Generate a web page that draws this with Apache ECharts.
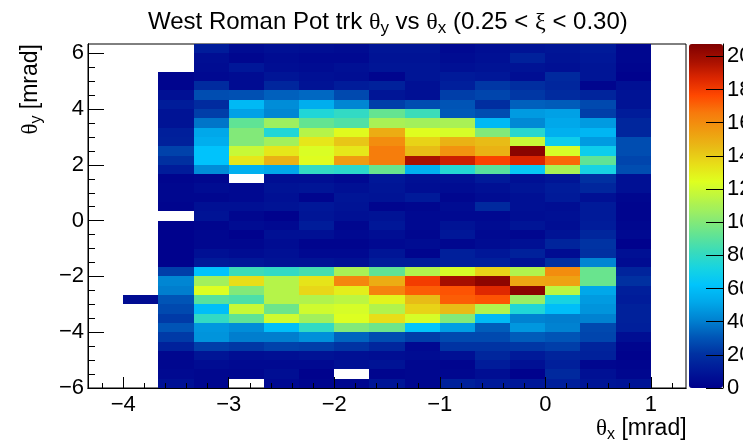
<!DOCTYPE html>
<html><head><meta charset="utf-8">
<style>html,body{margin:0;padding:0;background:#fff;overflow:hidden}#c{width:743px;height:444px}</style>
<script src="https://cdn.jsdelivr.net/npm/echarts@6/dist/echarts.min.js"></script>
</head><body><div id="c"></div>
<script>
const xEdges = [-4.3333,-4,-3.6667,-3.3333,-3,-2.6667,-2.3333,-2,-1.6667,-1.3333,-1,-0.6667,-0.3333,0,0.3333,0.6667,1,1.3333];
const yEdges = [6.3333,6,5.6667,5.3333,5,4.6667,4.3333,4,3.6667,3.3333,3,2.6667,2.3333,2,1.6667,1.3333,1,0.6667,0.3333,0,-0.3333,-0.6667,-1,-1.3333,-1.6667,-2,-2.3333,-2.6667,-3,-3.3333,-3.6667,-4,-4.3333,-4.6667,-5,-5.3333,-5.6667,-6];
const _ = null;
// one row per theta-y bin (top to bottom), one column per theta-x bin (left to right)
const counts = [
[_,_,_,12,5,7,6,5,9,9,4,6,8,9,11,3,_],
[_,_,_,6,3,5,4,4,8,8,5,7,14,8,10,3,_],
[_,_,_,5,10,6,5,7,9,9,7,8,8,7,9,2,_],
[_,_,2,4,5,9,7,6,2,9,11,10,6,17,9,1,_],
[_,_,2,18,5,16,8,12,14,7,13,22,19,16,2,7,_],
[_,_,7,28,29,33,35,27,9,7,24,26,22,18,15,8,_],
[_,_,12,18,58,44,54,42,24,28,30,19,33,32,27,8,_],
[_,_,8,24,50,42,75,80,93,83,31,28,48,50,24,12,_],
[_,_,8,38,92,107,93,88,110,108,110,58,43,52,48,16,_],
[_,_,13,52,100,75,113,126,150,125,122,100,77,55,57,16,_],
[_,_,14,54,100,108,132,142,160,138,148,145,118,68,48,28,_],
[_,_,25,62,118,132,123,132,165,145,158,148,205,122,68,28,_],
[_,_,20,62,132,148,125,155,165,197,190,178,187,170,92,26,_],
[_,_,12,44,55,52,80,78,94,55,76,90,65,110,72,28,_],
[_,_,2,3,_,6,6,4,10,7,7,11,7,9,20,7,_],
[_,_,3,5,4,8,9,7,9,6,5,7,9,12,16,7,_],
[_,_,3,3,4,7,2,9,8,11,3,5,7,11,7,3,_],
[_,_,2,7,7,8,10,8,2,3,5,17,7,6,11,2,_],
[_,_,_,8,3,1,9,7,8,4,4,4,6,7,11,2,_],
[_,_,1,2,5,4,12,3,10,4,8,5,9,6,12,3,_],
[_,_,1,3,1,7,7,4,6,3,10,4,3,8,16,4,_],
[_,_,1,3,3,5,2,2,4,5,3,5,7,15,21,1,_],
[_,_,1,7,5,7,4,4,9,2,13,10,14,5,20,7,_],
[_,_,1,11,10,8,8,7,12,12,13,13,8,20,42,5,_],
[_,_,24,62,83,80,85,110,92,112,122,138,112,160,94,15,_],
[_,_,42,108,135,113,133,162,150,180,198,204,152,153,94,20,_],
[_,_,40,124,100,113,137,130,163,172,174,186,205,115,52,13,_],
[_,5,30,90,87,113,112,115,128,145,172,174,106,72,48,12,_],
[_,_,27,60,118,95,120,122,112,138,145,112,75,60,46,14,_],
[_,_,23,80,92,120,108,124,135,122,100,58,41,40,41,14,_],
[_,_,30,47,44,60,80,100,95,63,49,32,47,41,27,13,_],
[_,_,23,46,40,40,45,34,28,24,27,27,32,30,26,6,_],
[_,_,14,24,22,25,24,21,16,4,21,21,22,24,15,2,_],
[_,_,3,9,6,7,8,7,6,5,7,16,11,15,14,1,_],
[_,_,3,5,4,4,4,7,8,3,2,12,7,13,3,2,_],
[_,_,4,3,3,6,1,_,2,3,3,6,1,17,7,3,_],
[_,_,7,3,_,4,2,3,9,3,14,11,10,13,9,8,_]
];
const xMajorTicks = [-4,-3,-2,-1,0,1];
const xMinorTicks = [-4.2,-3.8,-3.6,-3.4,-3.2,-2.8,-2.6,-2.4,-2.2,-1.8,-1.6,-1.4,-1.2,-0.8,-0.6,-0.4,-0.2,0.2,0.4,0.6,0.8,1.2];
const yMajorTicks = [-6,-4,-2,0,2,4,6];
const yMinorTicks = [-5.5,-5,-4.5,-3.5,-3,-2.5,-1.5,-1,-0.5,0.5,1,1.5,2.5,3,3.5,4.5,5,5.5];
const zMax = 207.5;
const zTicks = [0,20,40,60,80,100,120,140,160,180,200];
const palette = ['#00008c','#001898','#0032a2','#0058b8','#0084d2','#00a8ea','#00c4fc','#18d4e0','#3cdcb8','#66e490','#92ec6c','#b9f545','#dfff1f','#e8de18','#e8bb16','#f09a10','#f77a0c','#ff4800','#dc2600','#a81000','#800000'];

const cells = [];
counts.forEach((row, r) => row.forEach((v, c) => {
  if (v !== null) cells.push([xEdges[c], yEdges[r + 1], v, xEdges[c + 1], yEdges[r]]);
}));

const font = '"Liberation Sans", Arial, sans-serif';
const fmt = v => String(v).replace('-', '\u2212');
const line = {show:true, onZero:false, lineStyle:{color:'#000',width:1}};
const xAxisBase = {type:'value', gridIndex:0, min:xEdges[0], max:xEdges[17], position:'bottom', splitLine:{show:false}, axisLine:line, z:5};
const yAxisBase = {type:'value', gridIndex:0, min:yEdges[37], max:yEdges[0], position:'left', splitLine:{show:false}, axisLine:line, z:5};
const rich = size => ({
  g:{fontFamily:'"Liberation Serif", serif', fontSize:size, color:'#000', lineHeight:size+5},
  s:{fontFamily:font, fontSize:size-7, color:'#000', lineHeight:size-7, verticalAlign:'bottom'}
});

const chart = echarts.init(document.getElementById('c'), null, {renderer:'canvas'});
chart.setOption({
  animation:false,
  backgroundColor:'#fff',
  title:{
    text:'West Roman Pot trk {g|\u03b8}{s|y} vs {g|\u03b8}{s|x} (0.25 < {g|\u03be} < 0.30)',
    left:148, top:8, padding:0,
    textStyle:{fontFamily:font, fontSize:24, fontWeight:'normal', color:'#000', lineHeight:29, rich:rich(24)}
  },
  grid:[
    {left:88, top:44, width:598, height:344, show:true, borderColor:'#000', borderWidth:1, backgroundColor:'#fff', outerBoundsMode:'none'},
    {left:689, top:44, width:34, height:344, show:false, outerBoundsMode:'none'}
  ],
  xAxis:[
    Object.assign({}, xAxisBase, {axisTick:{show:true, inside:true, length:5, customValues:xMinorTicks, lineStyle:{color:'#000'}}, axisLabel:{show:false}}),
    Object.assign({}, xAxisBase, {axisTick:{show:true, inside:true, length:11, customValues:xMajorTicks, lineStyle:{color:'#000'}},
      axisLabel:{show:true, customValues:xMajorTicks, margin:6, fontFamily:font, fontSize:22, color:'#000', formatter:fmt}}),
    {type:'value', gridIndex:1, min:0, max:1, show:false}
  ],
  yAxis:[
    Object.assign({}, yAxisBase, {axisTick:{show:true, inside:true, length:7, customValues:yMinorTicks, lineStyle:{color:'#000'}}, axisLabel:{show:false}}),
    Object.assign({}, yAxisBase, {axisTick:{show:true, inside:true, length:16, customValues:yMajorTicks, lineStyle:{color:'#000'}},
      axisLabel:{show:true, customValues:yMajorTicks, margin:4, fontFamily:font, fontSize:22, color:'#000', formatter:fmt}}),
    {type:'value', gridIndex:1, min:0, max:zMax, position:'right', z:10, splitLine:{show:false},
      axisLine:line,
      axisTick:{show:true, inside:true, length:17, customValues:zTicks, lineStyle:{color:'#000'}},
      axisLabel:{show:true, customValues:zTicks, margin:4, fontFamily:font, fontSize:22, color:'#000', hideOverlap:false}}
  ],
  visualMap:{
    type:'continuous', min:0, max:zMax, seriesIndex:0, dimension:2, calculable:false, realtime:false,
    left:689, top:44, itemWidth:34, itemHeight:344, orient:'vertical', padding:0, text:null, showLabel:false,
    inRange:{color:palette}, hoverLink:false, silent:true, z:1
  },
  series:[{
    type:'custom', xAxisIndex:0, yAxisIndex:0, data:cells, z:2, clip:true,
    encode:{x:[0,3], y:[1,4]},
    renderItem:(p, api) => {
      const a = api.coord([api.value(0), api.value(4)]);
      const b = api.coord([api.value(3), api.value(1)]);
      const x = Math.round(a[0]), y = Math.round(a[1]);
      return {type:'rect', shape:{x, y, width:Math.round(b[0])-x, height:Math.round(b[1])-y},
        style:{fill:api.visual('color')}};
    }
  }],
  graphic:[
    {type:'text', left:596, top:415, style:{text:'{g|\u03b8}{s|x} [mrad]', fontFamily:font, fontSize:23, fill:'#000', lineHeight:28, rich:rich(23)}},
    {type:'text', left:17, top:44, rotation:Math.PI/2, style:{text:'{g|\u03b8}{s|y} [mrad]', fontFamily:font, fontSize:23, fill:'#000', lineHeight:28, rich:rich(23)}}
  ]
});
</script></body></html>
